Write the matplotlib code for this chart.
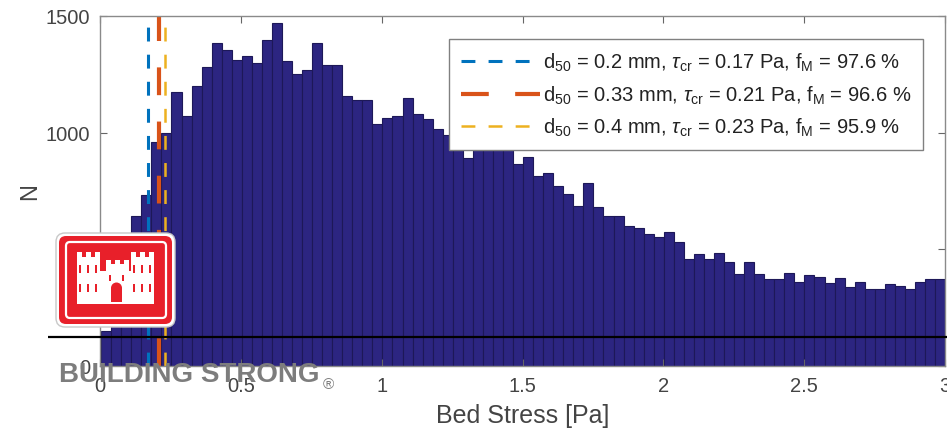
import matplotlib
matplotlib.use("Agg")
import matplotlib.pyplot as plt
from matplotlib.patches import FancyBboxPatch, Rectangle, Polygon, Wedge

# histogram of bed stress, counts per bin
counts = [150, 300, 480, 645, 731, 960, 1000, 1175, 1073, 1201,
          1282, 1385, 1355, 1312, 1329, 1299, 1398, 1470, 1307, 1252,
          1268, 1385, 1290, 1292, 1157, 1142, 1142, 1036, 1064, 1070,
          1150, 1078, 1057, 1016, 990, 965, 893, 975, 960, 950,
          945, 865, 896, 815, 829, 772, 737, 687, 786, 680,
          644, 644, 601, 590, 565, 555, 573, 530, 459, 478,
          459, 485, 446, 393, 444, 393, 373, 373, 397, 359,
          390, 382, 354, 376, 339, 362, 328, 328, 350, 342,
          330, 362, 375, 375]
bin_start = 0.004
bin_width = 0.03567

d50_mm = [0.2, 0.33, 0.4]
tau_cr = [0.17, 0.21, 0.23]
f_m = [97.6, 96.6, 95.9]
line_colors = ["#0072BD", "#D95319", "#EDB120"]
line_widths = [2.2, 3.0, 1.8]
line_dashes = [(0, (10, 9.5)), (0, (20, 19)), (0, (10, 9.5))]

x_ticks = [0, 0.5, 1, 1.5, 2, 2.5, 3]
x_tick_labels = ["0", "0.5", "1", "1.5", "2", "2.5", "3"]
y_ticks = [0, 500, 1000, 1500]
y_tick_labels = ["0", "500", "1000", "1500"]

plt.rcParams["font.family"] = ["Liberation Sans", "DejaVu Sans"]
plt.rcParams["mathtext.fontset"] = "custom"
plt.rcParams["mathtext.rm"] = "Liberation Sans"
plt.rcParams["mathtext.it"] = "Liberation Sans:italic"
plt.rcParams["mathtext.sf"] = "Liberation Sans"
plt.rcParams["lines.scale_dashes"] = False

W, H = 947, 431
fig = plt.figure(figsize=(W / 100, H / 100), dpi=100)
fig.set_facecolor("white")
ax = fig.add_axes([100 / W, 1 - 367 / H, 845 / W, 350 / H])

lefts = [bin_start + i * bin_width for i in range(len(counts))]
ax.bar(lefts, counts, width=bin_width, align="edge",
       color="#2c2581", edgecolor="#1d1858", linewidth=0.8, zorder=1)

for d, t, f, c, lw, ls in zip(d50_mm, tau_cr, f_m, line_colors,
                              line_widths, line_dashes):
    label = (r"d$_{\mathrm{50}}$ = %s mm, $\tau_{\mathrm{cr}}$ = %s Pa, "
             r"f$_{\mathrm{M}}$ = %s %%" % (d, t, f))
    ax.plot([t, t], [0, 1500], color=c, lw=lw, linestyle=ls,
            label=label, zorder=2)

ax.set_xlim(0, 3)
ax.set_ylim(0, 1500)
ax.set_xticks(x_ticks)
ax.set_xticklabels(x_tick_labels)
ax.set_yticks(y_ticks)
ax.set_yticklabels(y_tick_labels)
ax.tick_params(direction="in", length=5, width=0.8, color="#666666",
               labelsize=14.5, labelcolor="#444444", top=True, right=True,
               pad=7)
for sp in ax.spines.values():
    sp.set_color("#8a8a8a")
    sp.set_linewidth(1.0)
ax.set_xlabel("Bed Stress [Pa]", fontsize=18, color="#444444", labelpad=6)
ax.set_ylabel("N", fontsize=17, color="#444444", labelpad=3)

leg = ax.legend(loc="upper right", bbox_to_anchor=(0.974, 0.934),
                borderaxespad=0, fontsize=14.5, handlelength=3.9,
                handletextpad=0.15, labelspacing=0.5, borderpad=0.6,
                fancybox=False, framealpha=1, edgecolor="#808080")
leg.get_frame().set_linewidth(1.0)
for txt in leg.get_texts():
    txt.set_color("#222222")

# overlay in pixel coordinates for the logo and tagline
ov = fig.add_axes([0, 0, 1, 1], zorder=5)
ov.set_xlim(0, W)
ov.set_ylim(H, 0)
ov.axis("off")
ov.patch.set_alpha(0)

ov.add_patch(FancyBboxPatch((56, 234), 119, 94,
                            boxstyle="round,pad=0,rounding_size=9",
                            facecolor="white", edgecolor="#c8c8c8", lw=1))
ov.add_patch(FancyBboxPatch((59, 237), 113, 88,
                            boxstyle="round,pad=0,rounding_size=7",
                            facecolor="#e8202a", edgecolor="none"))
ov.add_patch(FancyBboxPatch((66, 243), 100, 76,
                            boxstyle="round,pad=0,rounding_size=4",
                            facecolor="none", edgecolor="white", lw=1.6))

castle = [
    (77, 305), (77, 253), (82, 253), (82, 258), (86, 258), (86, 253),
    (91, 253), (91, 258), (95, 258), (95, 253), (100, 253), (100, 272),
    (106, 272), (106, 261), (111, 261), (111, 265), (115, 265), (115, 261),
    (120, 261), (120, 265), (124, 265), (124, 261), (129, 261), (129, 272),
    (131, 272), (131, 253), (136, 253), (136, 258), (140, 258), (140, 253),
    (145, 253), (145, 258), (149, 258), (149, 253), (154, 253), (154, 305),
]
ov.add_patch(Polygon(castle, closed=True, facecolor="white",
                     edgecolor="none"))
# door and window slits
ov.add_patch(Rectangle((111, 289), 11, 14, facecolor="#e8202a"))
ov.add_patch(Wedge((116.5, 289), 5.5, 180, 360, facecolor="#e8202a"))
for wx in (80, 88, 96, 134, 142, 150):
    ov.add_patch(Rectangle((wx - 1, 266), 2.2, 8, facecolor="#e8202a"))
    ov.add_patch(Rectangle((wx - 1, 285), 2.2, 8, facecolor="#e8202a"))
for wx in (110, 123):
    ov.add_patch(Rectangle((wx - 1, 276), 2.2, 6, facecolor="#e8202a"))

ov.plot([48, W], [338, 338], color="black", lw=1.6,
        solid_capstyle="butt")
ov.text(59, 382, "BUILDING STRONG", fontsize=20, fontweight="bold",
        color="#7d7d7d", ha="left", va="baseline")
ov.text(323, 389, "\u00ae", fontsize=11, color="#7d7d7d",
        ha="left", va="baseline")

fig.savefig("out.png", dpi=100, facecolor="white")
